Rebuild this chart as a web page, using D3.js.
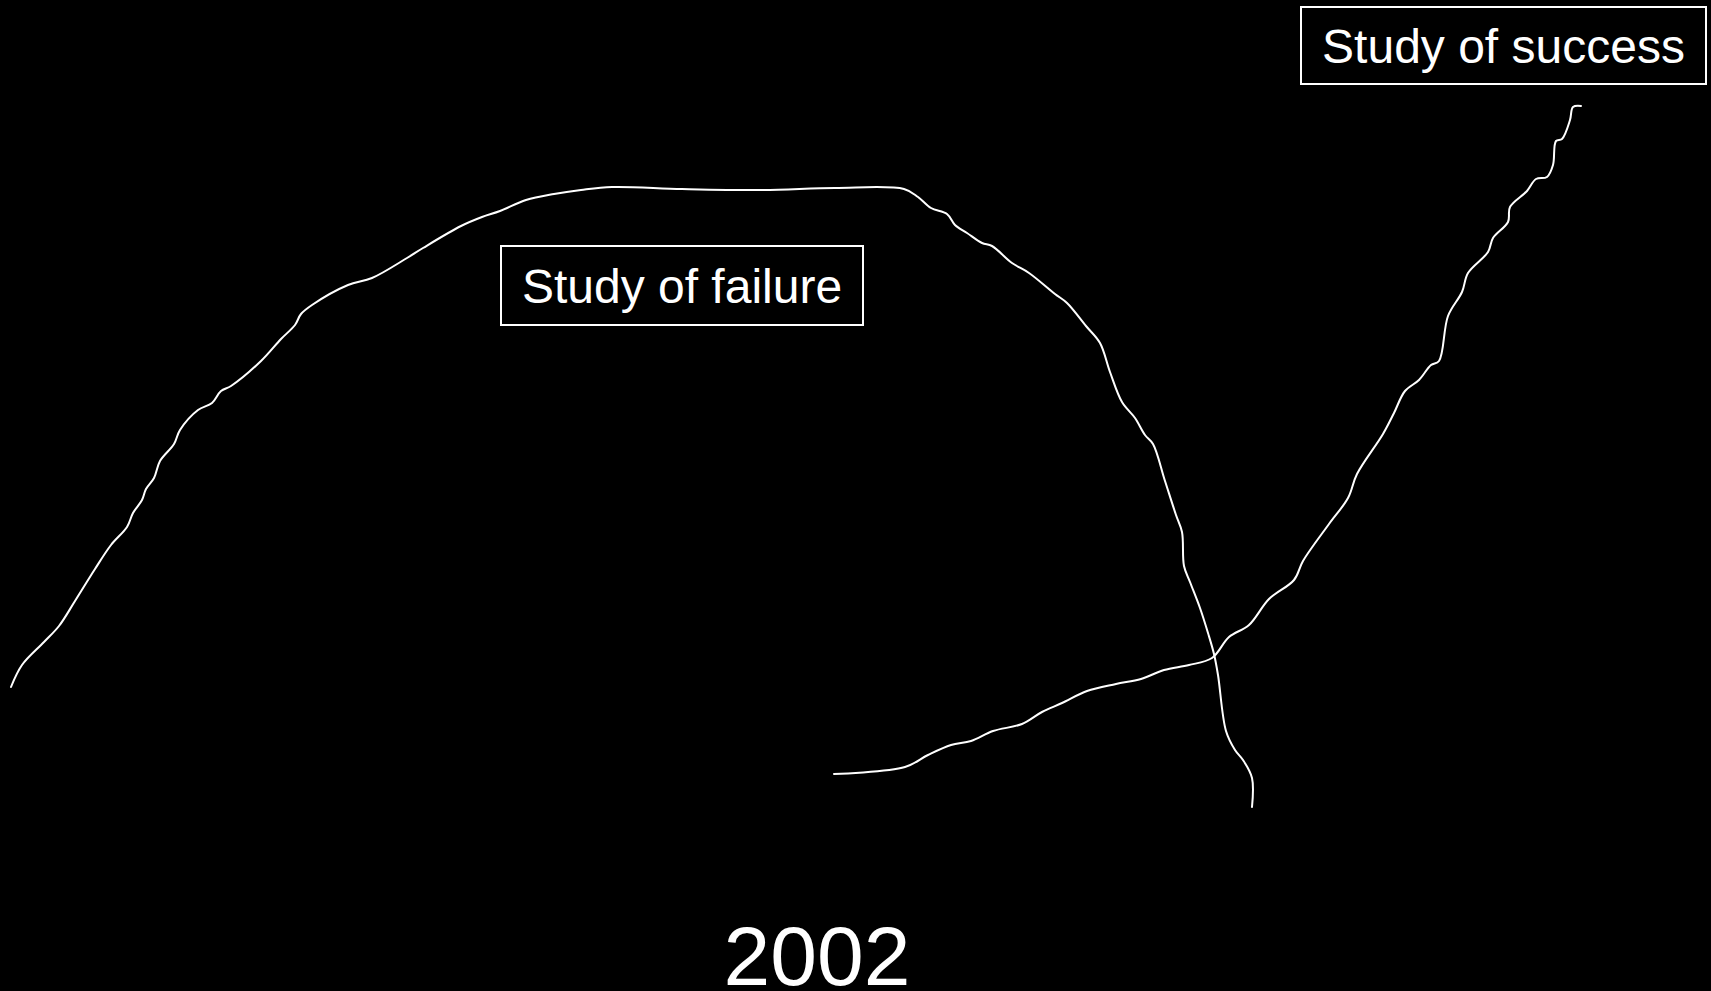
<!DOCTYPE html>
<html>
<head>
<meta charset="utf-8">
<script src="https://cdn.jsdelivr.net/npm/d3@7"></script>
<style>
  html, body { margin: 0; padding: 0; background: #000; }
  svg { display: block; }
</style>
</head>
<body>
<svg id="chart" width="1711" height="991"></svg>
<script>
// ---- data (abstract units: x = progress, y = level) ----
const failurePoints = [
  [1.1,30.4],[2.2,32.6],[4.4,34.9],[5.9,36.5],[7.5,39.0],[9.5,42.2],[11.1,44.6],[12.7,46.4],
  [13.3,47.8],[14.2,49.1],[14.6,50.2],[15.4,51.3],[16.0,53.0],[17.4,54.7],[18.0,56.1],[19.8,58.1],
  [21.2,58.8],[22.1,60.0],[23.1,60.5],[26.1,63.0],[28.1,65.2],[29.5,66.6],[30.1,67.7],[31.2,68.6],
  [34.8,70.6],[37.2,71.3],[40.7,73.3],[42.3,74.3],[46.1,76.5],[48.2,77.4],[50.0,78.0],[52.6,79.1],
  [55.4,79.7],[58.1,80.1],[61.2,80.4],[68.2,80.2],[76.3,80.1],[83.5,80.3],[90.4,80.2],[91.8,79.4],
  [93.1,78.3],[94.7,77.7],[95.5,76.6],[96.7,75.8],[98.2,74.8],[99.2,74.5],[101.2,72.8],[102.9,71.8],
  [105.5,69.7],[106.7,68.8],[108.6,66.5],[110.0,64.8],[111.0,61.9],[112.2,58.9],[113.5,57.3],[114.5,55.6],
  [115.3,54.7],[116.5,51.0],[117.6,47.6],[118.2,45.9],[118.4,42.5],[119.0,40.9],[120.0,38.3],[120.8,35.8],
  [121.4,33.7],[121.8,31.6],[122.6,26.0],[123.5,24.1],[124.3,23.1],[125.2,21.3],[125.2,18.4]
];
const successPoints = [
  [83.4,21.7],[90.5,22.4],[92.8,23.6],[95.1,24.6],[97.1,25.0],[99.3,26.0],[102.2,26.7],[104.2,27.9],
  [106.2,28.8],[108.7,30.0],[111.6,30.7],[114.1,31.2],[116.4,32.1],[118.9,32.6],[121.2,33.3],[122.9,35.4],
  [124.9,36.6],[126.9,39.2],[129.4,41.1],[130.3,43.0],[132.9,46.7],[134.8,49.3],[135.7,51.7],[138.3,55.7],
  [139.4,57.8],[140.5,60.0],[141.9,61.1],[143.1,62.6],[143.9,63.0],[144.8,67.5],[146.2,69.9],[146.8,71.8],
  [148.8,73.9],[149.3,75.3],[150.8,76.9],[151.0,78.4],[152.7,80.0],[153.6,81.2],[154.7,81.4],[155.3,82.6],
  [155.6,85.0],[156.2,85.2],[157.0,87.1],[157.3,88.4],[158.1,88.5]
];
const seriesNames = ["Study of failure", "Study of success"];
const yearLabel = "2002";

// ---- layout ----
const W = 1711, H = 991;
const svg = d3.select("#chart");
svg.append("rect").attr("width", W).attr("height", H).attr("fill", "#000");

const x = d3.scaleLinear().domain([0, 171.1]).range([0, W]);
const y = d3.scaleLinear().domain([0, 99.1]).range([H, 0]);

const line = d3.line()
  .x(d => x(d[0]))
  .y(d => y(d[1]))
  .curve(d3.curveCatmullRom.alpha(0.5));

[failurePoints, successPoints].forEach(pts => {
  svg.append("path")
    .datum(pts)
    .attr("d", line)
    .attr("fill", "none")
    .attr("stroke", "#fff")
    .attr("stroke-width", 2)
    .attr("stroke-linejoin", "round")
    .attr("stroke-linecap", "round");
});

// label boxes (layout)
const labelBoxes = [
  { x0: 501, y0: 246, x1: 863, y1: 325, baseline: 303 },
  { x0: 1301, y0: 7, x1: 1706, y1: 84, baseline: 63 }
];
labelBoxes.forEach((b, i) => {
  svg.append("rect")
    .attr("x", b.x0).attr("y", b.y0)
    .attr("width", b.x1 - b.x0).attr("height", b.y1 - b.y0)
    .attr("fill", "#000")
    .attr("stroke", "#fff")
    .attr("stroke-width", 2);
  svg.append("text")
    .attr("x", (b.x0 + b.x1) / 2)
    .attr("y", b.baseline)
    .attr("text-anchor", "middle")
    .attr("fill", "#fff")
    .style("font-family", "'Liberation Sans', Arial, sans-serif")
    .style("font-size", "48px")
    .text(seriesNames[i]);
});

svg.append("text")
  .attr("x", 817)
  .attr("y", 985)
  .attr("text-anchor", "middle")
  .attr("fill", "#fff")
  .style("font-family", "'Liberation Sans', Arial, sans-serif")
  .style("font-size", "84px")
  .text(yearLabel);
</script>
</body>
</html>
